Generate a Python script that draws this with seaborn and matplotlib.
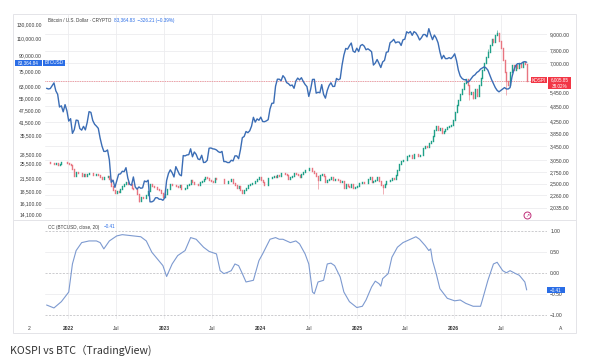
import matplotlib
matplotlib.use('Agg')
import matplotlib.pyplot as plt
from matplotlib.patches import Rectangle
from matplotlib.lines import Line2D
from matplotlib.ticker import NullLocator
import numpy as np
import pandas as pd
import seaborn as sns

sns.set_style('white')
plt.rcParams['font.family'] = ['Liberation Sans', 'DejaVu Sans']

# ---- data (weekly, week starting 2021-10-11) ----
week_start = '2021-10-11'

# BTCUSD weekly close, thousand USD
btc_close_k = [
    61.5, 61.0, 61.3, 63.3, 65.5, 59.7, 57.3, 49.4, 50.1, 46.7, 50.8, 47.3,
    # 2022
    41.9, 43.1, 36.3, 37.9, 42.4, 42.2, 38.4, 37.7, 39.4, 37.8, 41.3, 46.8,
    46.4, 42.2, 40.4, 39.5, 38.5, 34.3, 31.3, 29.4, 29.4, 29.9, 26.6, 20.5,
    21.0, 19.3, 20.8, 22.5, 22.6, 23.3, 23.2, 24.3, 21.5, 20.0, 19.8, 21.8,
    19.4, 18.9, 19.4, 19.1, 19.2, 20.8, 20.6, 21.0, 16.3, 16.3, 16.5, 17.1,
    17.1, 16.8, 16.8, 16.6,
    # 2023
    17.1, 20.9, 22.7, 23.7, 22.9, 21.8, 24.6, 23.5, 22.4, 22.1, 28.0, 27.9,
    28.2, 28.3, 30.3, 27.6, 29.2, 28.4, 26.9, 26.7, 28.1, 25.8, 25.9, 26.5,
    30.5, 30.6, 30.3, 30.2, 29.9, 29.3, 29.0, 29.4, 26.1, 26.1, 25.8, 25.8,
    26.5, 26.3, 27.9, 27.9, 27.0, 30.0, 34.5, 35.0, 37.1, 36.6, 37.4, 39.5,
    43.8, 41.4, 43.0, 42.3,
    # 2024
    43.9, 41.7, 41.6, 42.0, 42.6, 48.3, 51.6, 51.7, 63.1, 68.4, 68.4, 67.2,
    71.3, 69.4, 65.7, 64.9, 63.4, 63.9, 61.5, 66.9, 69.3, 67.8, 69.6, 66.6,
    64.3, 62.7, 55.9, 60.8, 68.2, 68.3, 58.1, 58.7, 58.4, 64.2, 57.3, 54.8,
    60.0, 63.6, 65.6, 62.8, 62.9, 69.0, 67.9, 68.7, 80.5, 90.6, 98.0, 97.2,
    101.1, 104.4, 94.9, 93.7,
    # 2025
    98.3, 94.5, 101.3, 102.6, 100.7, 96.5, 97.6, 96.1, 94.3, 80.7, 82.6, 86.1,
    82.3, 78.4, 83.7, 85.2, 93.7, 94.3, 104.7, 106.5, 109.0, 104.6, 105.7, 105.5,
    101.5, 108.4, 109.2, 119.1, 117.3, 119.4, 114.2, 119.3, 117.5, 113.5, 108.2, 111.1,
    115.3, 115.3, 112.2, 123.5, 115.1, 108.6, 114.6, 110.6, 104.7, 94.2, 86.8, 90.4,
    87.0, 87.0, 88.0, 87.0,
    # 2026
    89.0, 92.0, 85.0, 76.0, 71.0, 69.0, 68.0, 68.0, 66.0, 67.0, 69.0, 71.0,
    72.0, 74.0, 75.0, 77.0, 78.0, 79.0, 78.0, 76.0, 72.0, 68.0, 65.0, 62.0,
    60.0, 59.0, 60.0, 61.0, 62.0, 61.0, 61.0, 62.0, 70.0, 76.0, 80.0, 82.0,
    82.0, 82.0, 83.5, 84.0, 83.4,
]

# KOSPI weekly close
kospi_first_open = 3000
kospi_close = [
    3006, 3006, 2970, 2969, 2968, 2971, 2936, 2968, 3010, 3017, 3012, 2977,
    # 2022
    2954, 2921, 2834, 2663, 2750, 2747, 2744, 2676, 2713, 2661, 2707, 2729,
    2739, 2700, 2696, 2704, 2695, 2644, 2604, 2639, 2638, 2670, 2595, 2440,
    2366, 2305, 2350, 2330, 2393, 2451, 2490, 2527, 2492, 2481, 2409, 2384,
    2382, 2290, 2155, 2232, 2212, 2213, 2268, 2348, 2483, 2444, 2437, 2434,
    2389, 2361, 2313, 2236,
    # 2023
    2289, 2386, 2395, 2484, 2480, 2469, 2451, 2423, 2462, 2394, 2395, 2414,
    2476, 2490, 2571, 2544, 2501, 2500, 2475, 2537, 2558, 2601, 2641, 2625,
    2570, 2564, 2526, 2628, 2609, 2608, 2602, 2591, 2504, 2519, 2563, 2547,
    2601, 2508, 2465, 2408, 2456, 2375, 2302, 2368, 2409, 2469, 2496, 2505,
    2517, 2563, 2600, 2655,
    # 2024
    2578, 2525, 2472, 2478, 2615, 2620, 2649, 2667, 2642, 2680, 2667, 2748,
    2746, 2714, 2681, 2591, 2656, 2676, 2727, 2724, 2687, 2636, 2722, 2758,
    2807, 2797, 2862, 2857, 2795, 2731, 2676, 2588, 2697, 2707, 2674, 2544,
    2575, 2593, 2649, 2569, 2596, 2609, 2583, 2542, 2561, 2417, 2501, 2455,
    2428, 2494, 2404, 2429,
    # 2025
    2441, 2515, 2523, 2536, 2517, 2521, 2591, 2654, 2532, 2563, 2567, 2643,
    2557, 2465, 2432, 2483, 2546, 2559, 2577, 2626, 2592, 2697, 2812, 2946,
    3021, 3055, 3054, 3175, 3188, 3196, 3119, 3210, 3225, 3168, 3186, 3205,
    3396, 3445, 3424, 3549, 3610, 3748, 3941, 4107, 3953, 4011, 3853, 3926,
    4000, 4050, 4100, 4120,
    # 2026
    4300, 4600, 4900, 5100, 5400, 5600, 5900, 6100, 5800, 5400, 5500, 5200,
    5600, 5300, 5800, 6200, 6600, 7000, 7400, 7700, 8200, 8600, 8400, 8900,
    9100, 8500, 8000, 7200, 6500, 6000, 5800, 6500, 6900, 6600, 6900, 6700,
    7000, 6800, 7100, 6950, 6000,
]
# long wicks visible on the chart (week index -> price)
kospi_wick_low = {50: 2134, 147: 2386, 182: 2284, 229: 5100, 231: 5150, 249: 5350}
kospi_wick_high = {244: 9300, 239: 7900}

# CC (BTCUSD, close, 20): week index, value
cc_week = [0, 4, 8, 12, 14, 16, 19, 23, 27, 29, 31, 34, 38, 41, 47, 51, 54, 57, 60, 63,
           65, 68, 71, 75, 78, 81, 85, 88, 92, 94, 96, 98, 100, 102, 104, 106, 108, 112,
           115, 117, 121, 124, 126, 128, 132, 135, 137, 140, 142, 144, 145, 147, 150,
           152, 154, 156, 159, 161, 164, 168, 171, 173, 176, 178, 180, 181, 182, 185,
           187, 190, 193, 197, 200, 202, 205, 207, 208, 209, 211, 213, 217, 221, 224,
           227, 231, 235, 236, 239, 242, 244, 247, 249, 251, 254, 256, 259, 260]
cc_value = [-0.77, -0.84, -0.69, -0.46, 0.21, 0.53, 0.72, 0.76, 0.76, 0.72, 0.57, 0.76,
            0.88, 0.91, 0.88, 0.86, 0.76, 0.49, 0.33, 0.17, -0.09, 0.21, 0.41, 0.53,
            0.84, 0.80, 0.61, 0.51, 0.45, 0.05, -0.02, 0.01, 0.05, 0.21, 0.17, -0.02,
            -0.22, -0.18, 0.29, 0.45, 0.80, 0.84, 0.80, 0.80, 0.72, 0.76, 0.69, 0.45,
            0.21, -0.46, -0.50, -0.22, -0.18, 0.21, 0.23, 0.17, -0.10, -0.46, -0.69,
            -0.83, -0.80, -0.65, -0.34, -0.20, -0.26, -0.32, -0.14, -0.02, 0.37, 0.61,
            0.72, 0.80, 0.86, 0.80, 0.65, 0.53, 0.57, 0.29, -0.02, -0.38, -0.61, -0.67,
            -0.65, -0.73, -0.80, -0.80, -0.65, -0.18, 0.21, 0.25, 0.05, 0.00, 0.05,
            -0.02, -0.06, -0.22, -0.41]

btc_ticks = [130000, 110000, 90000, 75000, 63000, 55000, 47500, 41500, 35500,
             28500, 25500, 21500, 18500, 16100, 14100]
kospi_ticks = [9000, 7800, 7000, 6000, 5450, 4850, 4250, 3850, 3450, 3050, 2750,
               2500, 2260, 2035]
kospi_hidden_tick = 6000   # covered by the KOSPI price label
cc_ticks = [1.0, 0.5, 0.0, -0.5, -1.0]
tick_dates = ['2022-01-01', '2022-07-01', '2023-01-01', '2023-07-01', '2024-01-01',
              '2024-07-01', '2025-01-01', '2025-07-01', '2026-01-01', '2026-07-01']
tick_labels = ['2022', 'Jul', '2023', 'Jul', '2024', 'Jul', '2025', 'Jul', '2026', 'Jul']

# ---- frame ----
W, H = 600, 359
def fx(px):
    return px / W
def fy(py):
    return 1 - py / H

green, red = '#1fa088', '#e87580'
btc_blue = '#3b6db5'
grid_c = '#ececef'
txt_c = '#3a3a3a'

dates = pd.date_range(week_start, periods=len(btc_close_k), freq='7D')
df = pd.DataFrame({'date': dates, 'btc': np.array(btc_close_k) * 1000,
                   'close': np.array(kospi_close, float)})
df['open'] = np.r_[kospi_first_open, df['close'].values[:-1]]
df['body_lo'] = df[['open', 'close']].min(axis=1)
df['body_hi'] = df[['open', 'close']].max(axis=1)
df['low'] = df['body_lo']
df['high'] = df['body_hi']
for i, v in kospi_wick_low.items():
    df.loc[i, 'low'] = v
for i, v in kospi_wick_high.items():
    df.loc[i, 'high'] = v
colors = np.where(df['close'] >= df['open'], green, red)

cc_df = pd.DataFrame({'date': dates[cc_week], 'cc': cc_value})

x0 = pd.Timestamp('2022-01-01') - pd.Timedelta(days=88)
x1 = pd.Timestamp('2022-01-01') + pd.Timedelta(days=1815)
xt = pd.to_datetime(tick_dates)

fig = plt.figure(figsize=(W / 100, H / 100), dpi=100)

# top panel: KOSPI candles (right scale) + BTC line (left scale)
ax = fig.add_axes([fx(45), fy(220), fx(547) - fx(45), fy(15) - fy(220)])
ax2 = ax.twinx()

ax.set_yscale('log')
ax.set_ylim(1830, 10590)
ax.set_xlim(x0, x1)
ax.grid(True, color=grid_c, lw=0.6)
ax.axhline(kospi_close[-1], color='#f0505a', lw=0.5, ls=(0, (1, 1.5)), zorder=1)
ax.vlines(df['date'], df['low'], df['high'], colors=colors, lw=0.4, zorder=2)
bodies = ax.vlines(df['date'], df['body_lo'], df['body_hi'], colors=colors, lw=1.0, zorder=3)
bodies.set_capstyle('projecting')

sns.lineplot(data=df, x='date', y='btc', ax=ax2, color=btc_blue, linewidth=1.0)
ax2.set_yscale('log')
ax2.set_ylim(13180, 144900)
ax2.set_xlim(x0, x1)
ax2.grid(False)

# right scale = KOSPI, left scale = BTC
ax.set_yticks(kospi_ticks)
ax.set_yticklabels(['' if v == kospi_hidden_tick else f'{v:,.2f}' for v in kospi_ticks])
ax.yaxis.set_minor_locator(NullLocator())
ax.yaxis.tick_right()
ax.yaxis.set_label_position('right')
ax2.set_yticks(btc_ticks)
ax2.set_yticklabels([f'{v:,.2f}' for v in btc_ticks])
ax2.yaxis.set_minor_locator(NullLocator())
ax2.yaxis.tick_left()
ax2.yaxis.set_label_position('left')

for a in (ax, ax2):
    a.set_xticks(xt)
    a.tick_params(axis='x', length=0, labelbottom=False)
    a.tick_params(axis='y', which='both', length=0, pad=2.3, labelsize=3.6, labelcolor=txt_c)
    a.set_xlabel('')
    a.set_ylabel('')
    for s in a.spines.values():
        s.set_visible(False)

# bottom panel: correlation coefficient
ax3 = fig.add_axes([fx(45), fy(319), fx(547) - fx(45), fy(221) - fy(319)])
for v in (0.5, -0.5):
    ax3.axhline(v, color=grid_c, lw=0.6, zorder=0)
for v in (1.0, 0.0, -1.0):
    ax3.axhline(v, color='#b8b8bc', lw=0.5, ls=(0, (3, 2)), zorder=1)
sns.lineplot(data=cc_df, x='date', y='cc', ax=ax3, color='#7d9ad0', linewidth=0.8)
ax3.set_xlim(x0, x1)
ax3.set_ylim(-1.104, 1.236)
ax3.set_yticks(cc_ticks)
ax3.set_yticklabels([f'{v:.2f}'.replace('-', '\u2212') for v in cc_ticks])
ax3.yaxis.tick_right()
ax3.set_xticks(xt)
ax3.set_xticklabels(tick_labels)
for lab in ax3.get_xticklabels():
    if lab.get_text() != 'Jul':
        lab.set_fontweight('bold')
ax3.tick_params(axis='x', length=0, pad=5.0, labelsize=3.6, labelcolor=txt_c)
ax3.tick_params(axis='y', length=0, pad=2.3, labelsize=3.6, labelcolor=txt_c)
ax3.xaxis.grid(True, color=grid_c, lw=0.6)
ax3.set_xlabel('')
ax3.set_ylabel('')
for s in ax3.spines.values():
    s.set_visible(False)

# ---- chart chrome ----
fig.add_artist(Rectangle((fx(13), fy(333)), fx(576) - fx(13), fy(14) - fy(333),
                         transform=fig.transFigure, fill=False, ec='#e4e4e8', lw=0.7))
fig.add_artist(Line2D([fx(13), fx(576)], [fy(220), fy(220)], transform=fig.transFigure,
                      color='#e4e4e8', lw=0.7))

def label_box(px0, py0, px1, py1, color, text, size=3.3, tcolor='white'):
    fig.add_artist(Rectangle((fx(px0), fy(py1)), fx(px1) - fx(px0), fy(py0) - fy(py1),
                             transform=fig.transFigure, color=color, lw=0, zorder=5))
    fig.text(fx((px0 + px1) / 2), fy((py0 + py1) / 2), text, ha='center', va='center',
             fontsize=size, color=tcolor, zorder=6)

label_box(15, 60, 41.5, 66, '#2a6de6', '83,364.84')
label_box(42.5, 60, 65, 66, '#2a6de6', 'BTCUSD')
label_box(531, 77, 547, 83, '#f23645', 'KOSPI')
label_box(548, 77, 571, 89, '#f23645', '')
fig.text(fx(559.5), fy(80), '6,005.85', ha='center', va='center', fontsize=3.3, color='white', zorder=6)
fig.text(fx(559.5), fy(86), '38.02%', ha='center', va='center', fontsize=3.3, color='white', zorder=6)
label_box(547, 287, 565, 293, '#2a6de6', '\u22120.41')

fig.text(fx(48), fy(20.5), 'Bitcoin / U.S. Dollar \u00b7 CRYPTO', fontsize=3.3, color=txt_c, va='center')
fig.text(fx(114), fy(20.5), '83,364.83  \u2212326.21 (\u22120.39%)', fontsize=3.3, color='#2a6de6', va='center')
fig.text(fx(48), fy(227), 'CC (BTCUSD, close, 20)', fontsize=3.3, color=txt_c, va='center')
fig.text(fx(104), fy(227), '\u22120.41', fontsize=3.3, color='#2a6de6', va='center')
fig.text(fx(29), fy(328), '2', fontsize=3.6, color=txt_c, ha='center', va='center')
fig.text(fx(561), fy(328), 'A', fontsize=3.6, color=txt_c, ha='center', va='center')

fig.add_artist(Line2D([fx(527)], [fy(215)], transform=fig.transFigure, marker='o',
                      ms=5, mfc='white', mec='#c0307a', mew=0.7))
fig.text(fx(527.3), fy(215), '\u2197', fontsize=3.5, color='#c0307a', ha='center', va='center')

fig.text(fx(10), fy(350), 'KOSPI vs BTC\uff08TradingView)', fontsize=7.6,
         color='#333333', va='center', family=['Noto Sans CJK SC', 'DejaVu Sans'])

fig.savefig('out.png', dpi=100)
